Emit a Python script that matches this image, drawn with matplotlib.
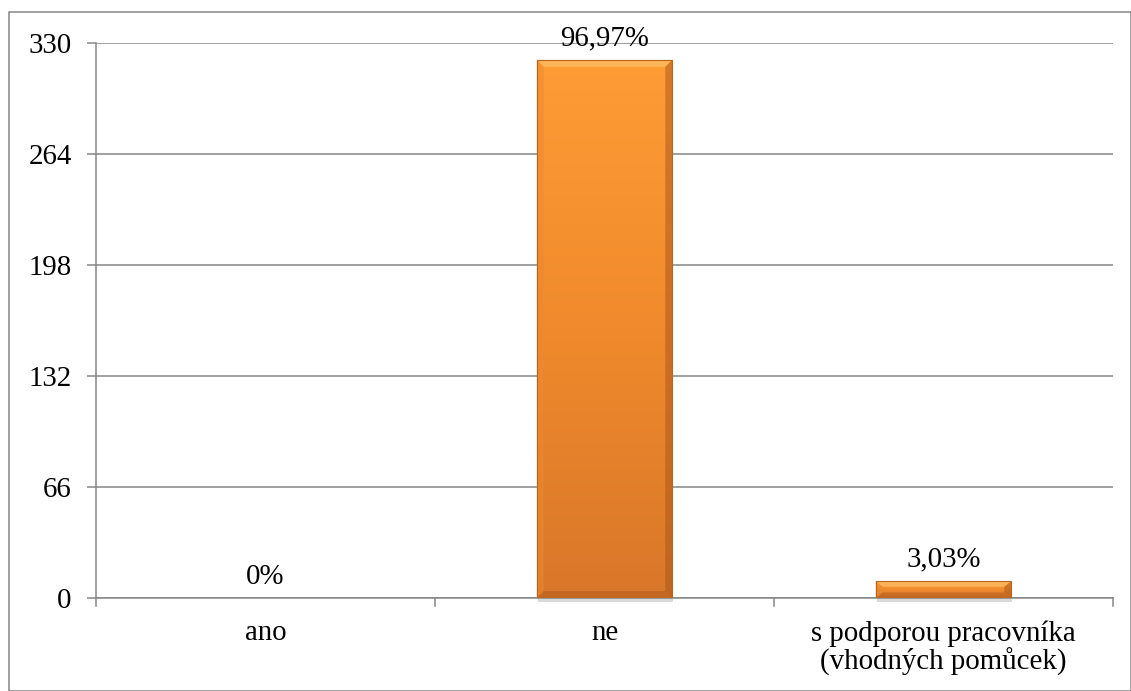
import numpy as np
import matplotlib
matplotlib.use("Agg")
import matplotlib.pyplot as plt
from matplotlib.patches import Rectangle, Polygon
from matplotlib.colors import LinearSegmentedColormap

categories = ["ano", "ne", "s podporou pracovníka\n(vhodných pomůcek)"]
counts = [0, 320, 10]
percent_labels = ["0%", "96,97%", "3,03%"]
y_ticks = [0, 66, 132, 198, 264, 330]

plt.rcParams["font.family"] = ["Liberation Serif", "DejaVu Serif"]

fig = plt.figure(figsize=(11.31, 6.91), dpi=100)
W, H = 1131, 691
ax = fig.add_axes([96 / W, 1 - 598 / H, (1113 - 96) / W, (598 - 43) / H])

grid_col = "#868686"
fs = 20.8
x = np.arange(len(categories))
bar_w = 0.40
ax.set_xlim(-0.5, len(categories) - 0.5)
ax.set_ylim(0, 330)

# bar shells; faces are filled with a vertical gradient and bevelled edges
bars = ax.bar(x, counts, width=bar_w, color="none", edgecolor="none", zorder=3)
cmap = LinearSegmentedColormap.from_list("orng", ["#FF9C36", "#F08A2C", "#D9772A"])
grad = np.linspace(0, 1, 256).reshape(-1, 1)

px_x = (1113 - 96) / 3.0        # pixels per category unit
px_y = (598 - 43) / 330.0       # pixels per count unit
bev = 7.0                       # bevel width in pixels

for b, v in zip(bars, counts):
    if v <= 0:
        continue
    x0, w = b.get_x(), b.get_width()
    x1 = x0 + w
    # drop shadow
    sh = Rectangle((x0 + 1 / px_x, -4 / px_y), w, v, facecolor="#000000",
                   alpha=0.15, edgecolor="none", zorder=2, clip_on=False)
    ax.add_patch(sh)
    im = ax.imshow(grad, cmap=cmap, aspect="auto", extent=(x0, x1, 0, v),
                   origin="upper", zorder=3, interpolation="bicubic")
    im.set_clip_path(b)
    bx = min(bev / px_x, w / 4)
    by = min(bev / px_y, v / 3)
    # top bevel (highlight)
    ax.add_patch(Polygon([(x0, v), (x1, v), (x1 - bx, v - by), (x0 + bx, v - by)],
                         closed=True, facecolor="#FFC871", alpha=0.6,
                         edgecolor="none", zorder=4))
    # bottom bevel (shade)
    ax.add_patch(Polygon([(x0, 0), (x1, 0), (x1 - bx, by), (x0 + bx, by)],
                         closed=True, facecolor="#A8561C", alpha=0.45,
                         edgecolor="none", zorder=4))
    # left bevel
    ax.add_patch(Polygon([(x0, 0), (x0, v), (x0 + bx, v - by), (x0 + bx, by)],
                         closed=True, facecolor="#E98A33", alpha=0.5,
                         edgecolor="none", zorder=4))
    # right bevel
    ax.add_patch(Polygon([(x1, 0), (x1, v), (x1 - bx, v - by), (x1 - bx, by)],
                         closed=True, facecolor="#9E5018", alpha=0.45,
                         edgecolor="none", zorder=4))
    ax.add_patch(Rectangle((x0, 0), w, v, facecolor="none",
                           edgecolor="#B8651F", linewidth=0.8, zorder=5))

for xi, v, lab in zip(x, counts, percent_labels):
    ax.annotate(lab, (xi, v), xytext=(0, 6), textcoords="offset points",
                ha="center", va="bottom", fontsize=fs, color="#000000", zorder=6)

ax.set_yticks(y_ticks)
ax.set_yticklabels([str(t) for t in y_ticks], fontsize=fs)
ax.set_xticks(x)
ax.set_xticklabels(categories, fontsize=fs, linespacing=1.05)
ax.tick_params(axis="x", length=0, pad=16)
ax.tick_params(axis="y", length=6.5, width=1.1, color=grid_col, pad=11)

# category boundary ticks on the x axis
for bx_ in np.arange(-0.5, len(categories), 1.0):
    ax.plot([bx_, bx_], [0, -8 / px_y], color=grid_col, lw=1.1, clip_on=False, zorder=1)

ax.yaxis.grid(True, color=grid_col, linewidth=1.1, zorder=0)
ax.set_axisbelow(True)
for s in ["top", "right"]:
    ax.spines[s].set_visible(False)
for s in ["left", "bottom"]:
    ax.spines[s].set_color(grid_col)
    ax.spines[s].set_linewidth(1.1)

# outer chart frame
fig.add_artist(Rectangle((9 / W, 0), 1 - 9 / W - 0.5 / W, 1 - 12 / H,
                         transform=fig.transFigure, facecolor="none",
                         edgecolor=grid_col, linewidth=1.1))

fig.savefig("out.png", dpi=100)
